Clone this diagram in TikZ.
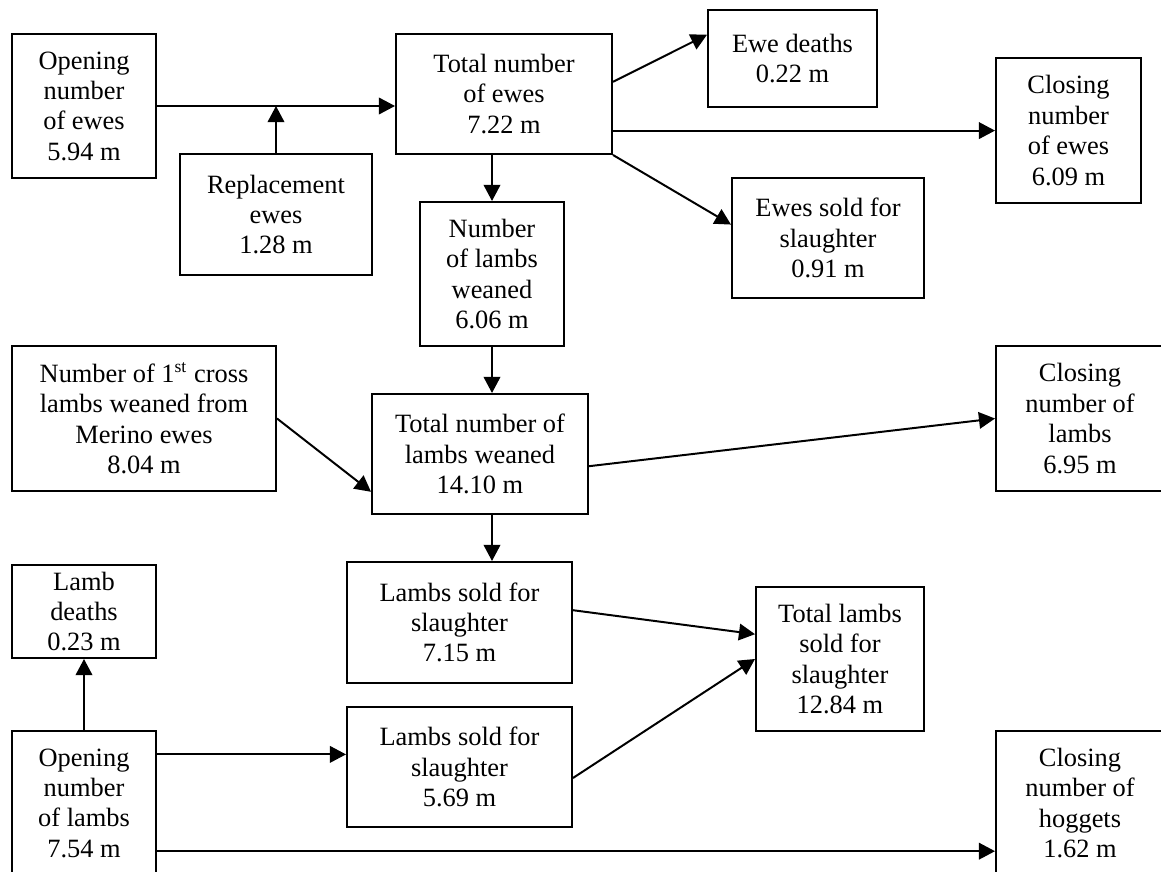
\documentclass[tikz,border=0pt]{standalone}
\usepackage{fontspec}
\setmainfont{Liberation Serif}
\usetikzlibrary{arrows.meta,calc}

\tikzset{
    box/.style={draw, line width=0.9pt, align=center, inner sep=0pt,
        font=\fontsize{12}{13.8}\selectfont},
    wh/.style 2 args={minimum width=#1*0.4545pt, minimum height=#2*0.4545pt},
    flow/.style={-{Triangle[length=7.3pt,width=7.5pt]}, line width=0.9pt}
}

\begin{document}
\begin{tikzpicture}[x=0.4545pt, y=-0.4545pt]
    % Page frame
    \path[use as bounding box] (0,0) rectangle (1161,872);
    \clip (0,0) rectangle (1161,872);

    % Ewe flock
    \node[box, wh={144}{144}] (openewes) at (84,106) {Opening\\number\\of ewes\\5.94 m};
    \node[box, wh={192}{121}] (replace) at (276,214.5) {Replacement\\ewes\\1.28 m};
    \node[box, wh={216}{120}] (totalewes) at (504,94) {Total number\\of ewes\\7.22 m};
    \node[box, wh={169}{97}] (ewedeaths) at (792.5,58.5) {Ewe deaths\\0.22 m};
    \node[box, wh={145}{145}] (closeewes) at (1068.5,130.5) {Closing\\number\\of ewes\\6.09 m};
    \node[box, wh={192}{120}] (ewessold) at (828,238) {Ewes sold for\\slaughter\\0.91 m};
    \node[box, wh={144}{144}] (weaned) at (492,274) {Number\\of lambs\\weaned\\6.06 m};

    % Lambs weaned
    \node[box, wh={264}{145}] (cross) at (144,418.5) {Number of 1\textsuperscript{st} cross\\lambs weaned from\\Merino ewes\\8.04 m};
    \node[box, wh={216}{120}] (totalweaned) at (480,454) {Total number of\\lambs weaned\\14.10 m};
    \node[box, wh={168}{145}] (closelambs) at (1080,418.5) {Closing\\number of\\lambs\\6.95 m};

    % Lambs sold
    \node[box, wh={225}{121}] (soldA) at (459.5,622.5) {Lambs sold for\\slaughter\\7.15 m};
    \node[box, wh={225}{120}] (soldB) at (459.5,767) {Lambs sold for\\slaughter\\5.69 m};
    \node[box, wh={168}{144}] (totalsold) at (840,659) {Total lambs\\sold for\\slaughter\\12.84 m};
    \node[box, wh={144}{93}] (lambdeaths) at (84,611.5) {Lamb\\deaths\\0.23 m};
    \node[box, wh={144}{144}] (openlambs) at (84,803) {Opening\\number\\of lambs\\7.54 m};
    \node[box, wh={168}{144}] (closehog) at (1080,803) {Closing\\number of\\hoggets\\1.62 m};

    % Flows of ewes
    \draw[flow] (openewes.east) -- (openewes.east -| totalewes.west);
    \draw[flow] (replace.north) -- (replace.north |- openewes.east);
    \draw[flow] ($(totalewes.north east)!0.4!(totalewes.south east)$) -- ($(ewedeaths.north west)!0.26!(ewedeaths.south west)$);
    \draw[flow] ($(totalewes.north east)!0.8!(totalewes.south east)$) coordinate (te) -- (te -| closeewes.west);
    \draw[flow] (totalewes.south east) -- ($(ewessold.north west)!0.39!(ewessold.south west)$);
    \draw[flow] (weaned.north |- totalewes.south) -- (weaned.north);

    % Flows of lambs
    \draw[flow] (weaned.south) -- (weaned.south |- totalweaned.north);
    \draw[flow] (cross.east) -- ($(totalweaned.north west)!0.81!(totalweaned.south west)$);
    \draw[flow] ($(totalweaned.north east)!0.6!(totalweaned.south east)$) -- (closelambs.west);
    \draw[flow] (weaned.south |- totalweaned.south) -- (weaned.south |- soldA.north);
    \draw[flow] ($(soldA.north east)!0.4!(soldA.south east)$) -- ($(totalsold.north west)!0.33!(totalsold.south west)$);
    \draw[flow] ($(soldB.north east)!0.59!(soldB.south east)$) -- (totalsold.west);
    \draw[flow] (openlambs.north) -- (lambdeaths.south);
    \draw[flow] ($(openlambs.north east)!0.167!(openlambs.south east)$) coordinate (ol) -- (ol -| soldB.west);
    \draw[flow] ($(openlambs.north east)!0.83!(openlambs.south east)$) coordinate (oh) -- (oh -| closehog.west);
\end{tikzpicture}
\end{document}
